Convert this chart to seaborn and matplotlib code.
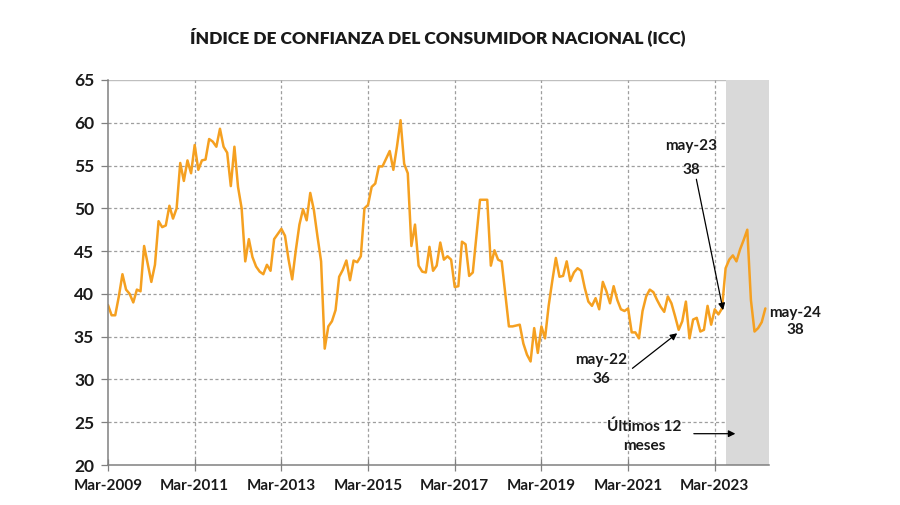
import numpy as np
import pandas as pd
import matplotlib
matplotlib.use("Agg")
import matplotlib.pyplot as plt
import seaborn as sns

# Monthly ICC values, Mar-2009 .. May-2024
icc_2009 = [38.7, 37.5, 37.5, 39.7, 42.3, 40.5, 40.0, 39.0, 40.5, 40.3]
icc_2010 = [45.6, 43.5, 41.4, 43.4, 48.5, 47.8, 48.0, 50.3, 48.8, 50.0, 55.3, 53.2]
icc_2011 = [55.6, 54.1, 57.4, 54.5, 55.6, 55.7, 58.1, 57.8, 57.2, 59.3, 57.2, 56.5]
icc_2012 = [52.6, 57.2, 52.5, 50.0, 43.8, 46.4, 44.3, 43.2, 42.6, 42.3, 43.4, 42.7]
icc_2013 = [46.4, 47.0, 47.6, 46.8, 44.0, 41.7, 45.1, 48.1, 49.9, 48.6, 51.8, 49.8]
icc_2014 = [46.7, 43.8, 33.6, 36.2, 36.8, 38.1, 42.0, 42.8, 43.9, 41.6, 43.9, 43.7]
icc_2015 = [44.4, 50.0, 50.4, 52.5, 52.9, 54.9, 54.9, 55.8, 56.7, 54.5, 57.2, 60.3]
icc_2016 = [55.2, 54.1, 45.6, 48.1, 43.3, 42.6, 42.5, 45.5, 42.7, 43.3, 46.0, 44.0]
icc_2017 = [44.4, 44.0, 40.8, 40.9, 46.1, 45.8, 42.1, 42.5, 46.8, 51.0, 51.0, 51.0]
icc_2018 = [43.3, 45.1, 44.0, 43.8, 40.0, 36.2, 36.2, 36.3, 36.4, 34.2, 32.9, 32.1]
icc_2019 = [36.0, 33.1, 36.2, 34.8, 38.6, 41.5, 44.2, 42.0, 42.1, 43.8, 41.5, 42.5]
icc_2020 = [43.0, 42.7, 40.7, 39.1, 38.6, 39.5, 38.2, 41.4, 40.3, 38.9, 40.9, 39.3]
icc_2021 = [38.2, 38.0, 38.3, 35.5, 35.5, 34.8, 38.0, 39.7, 40.5, 40.2, 39.3, 38.5]
icc_2022 = [37.9, 39.7, 38.9, 37.4, 35.8, 36.8, 39.1, 34.8, 37.0, 37.2, 35.6, 35.8]
icc_2023 = [38.6, 36.4, 38.2, 37.6, 38.3, 43.0, 44.0, 44.5, 43.8, 45.2, 46.3, 47.5]
icc_2024 = [39.3, 35.6, 36.0, 36.7, 38.3]

tick_labels = ["Mar-2009", "Mar-2011", "Mar-2013", "Mar-2015",
               "Mar-2017", "Mar-2019", "Mar-2021", "Mar-2023"]
y_ticks = [20, 25, 30, 35, 40, 45, 50, 55, 60, 65]

title = "ÍNDICE DE CONFIANZA DEL CONSUMIDOR NACIONAL (ICC)"
ann_may22 = "may-22\n36"
ann_may23 = "may-23\n38"
ann_may24 = "may-24\n38"
ann_last12 = "Últimos 12\nmeses"

values = (icc_2009 + icc_2010 + icc_2011 + icc_2012 + icc_2013 + icc_2014 +
          icc_2015 + icc_2016 + icc_2017 + icc_2018 + icc_2019 + icc_2020 +
          icc_2021 + icc_2022 + icc_2023 + icc_2024)
dates = pd.date_range("2009-03-01", periods=len(values), freq="MS")
df = pd.DataFrame({"t": np.arange(len(values)), "icc": values, "date": dates})

tick_pos = [int(np.where(df["date"] == pd.to_datetime(lbl, format="%b-%Y"))[0][0])
            for lbl in tick_labels]

def idx_of(label):
    return int(np.where(df["date"] == pd.to_datetime(label, format="%b-%y"))[0][0])

sns.set_theme(style="white")
plt.rcParams['font.family'] = ['Lato', 'DejaVu Sans']

fig = plt.figure(figsize=(9, 5.05), dpi=100)
ax = fig.add_axes([0.12, 0.0792, 0.7344, 0.7624])

grid_c = "#9E9E9E"
for y in y_ticks[1:-1]:
    ax.axhline(y, color=grid_c, lw=0.9, ls=(0, (2.5, 2)), zorder=0.5)
ax.axhline(y_ticks[-1], color="#BFBFBF", lw=1.0, zorder=0.5)
for x in tick_pos[1:]:
    ax.axvline(x, color=grid_c, lw=0.9, ls=(0, (2.5, 2)), zorder=0.5)

last12_start = len(values) - 12 + 0.2
ax.axvspan(last12_start, len(values), color="#D9D9D9", lw=0, zorder=1)

sns.lineplot(data=df, x="t", y="icc", ax=ax, color="#F5A020", lw=1.8, zorder=3)

ax.set_xlim(0, len(values))
ax.set_ylim(y_ticks[0], y_ticks[-1])
ax.set_xlabel("")
ax.set_ylabel("")
ax.set_yticks(y_ticks)
ax.set_yticklabels([str(v) for v in y_ticks], fontweight="bold", fontsize=12.5, color="#1a1a1a")
ax.set_xticks(tick_pos)
ax.set_xticklabels(tick_labels, fontweight="bold", fontsize=11, color="#1a1a1a")
ax.tick_params(axis="y", length=5, width=0.9, color="#808080", pad=5, left=True)
ax.tick_params(axis="x", length=8, width=0.9, color="#808080", pad=6, direction="inout", bottom=True)

for s in ["top", "right"]:
    ax.spines[s].set_visible(False)
for s in ["left", "bottom"]:
    ax.spines[s].set_color("#808080")
    ax.spines[s].set_linewidth(1.1)
    ax.spines[s].set_zorder(4)

fig.text(0.486, 0.927, title, ha="center", va="center", fontweight="heavy",
         fontsize=12.5, color="#1a1a1a")

ann_kw = dict(fontweight="bold", fontsize=11, color="#1a1a1a", ha="center",
              va="center", multialignment="center")
arrow_kw = dict(arrowstyle="-|>", color="black", lw=0.9, mutation_scale=10,
                shrinkA=0, shrinkB=0)

i22 = idx_of("May-22")
i23 = idx_of("May-23")
i24 = idx_of("May-24")

ax.text(161.5, 55.9, ann_may23, linespacing=1.85, **ann_kw)
ax.annotate("", xy=(i23 + 0.3, values[i23] - 0.2), xytext=(162.9, 53.4),
            arrowprops=arrow_kw, zorder=5)

ax.text(136.6, 31.2, ann_may22, linespacing=1.45, **ann_kw)
ax.annotate("", xy=(i22 - 0.4, values[i22] - 0.4), xytext=(145.2, 31.3),
            arrowprops=arrow_kw, zorder=5)

ax.text(190.3, 36.8, ann_may24, clip_on=False, linespacing=1.3, **ann_kw)

ax.text(148.5, 23.4, ann_last12, linespacing=1.45, **ann_kw)
ax.annotate("", xy=(173.7, 23.66), xytext=(162.2, 23.66),
            arrowprops=arrow_kw, zorder=5)

fig.savefig("out.png", dpi=100, facecolor="white")
